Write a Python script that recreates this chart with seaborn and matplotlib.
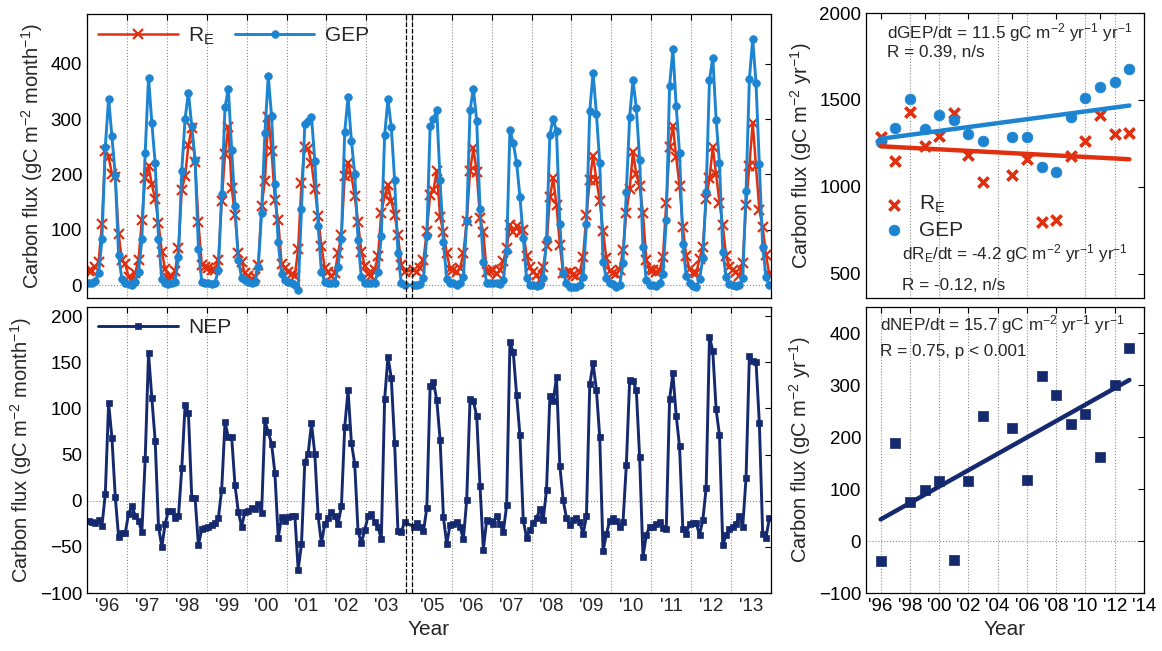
import numpy as np
import pandas as pd
import matplotlib
matplotlib.use("Agg")
import matplotlib.pyplot as plt
import seaborn as sns

# ---------------- data ----------------
years = [1996, 1997, 1998, 1999, 2000, 2001, 2002, 2003,
         2005, 2006, 2007, 2008, 2009, 2010, 2011, 2012, 2013]
year_labels = ["'96", "'97", "'98", "'99", "'00", "'01", "'02", "'03",
               "'05", "'06", "'07", "'08", "'09", "'10", "'11", "'12", "'13"]

gep_monthly = [
    [3, 3, 8, 21, 83, 250, 337, 269, 199, 54, 10, 3],
    [1, 0, 6, 24, 83, 239, 375, 293, 220, 84, 10, 4],
    [2, 3, 6, 50, 207, 301, 348, 287, 226, 66, 6, 3],
    [3, 2, 4, 27, 164, 321, 355, 245, 143, 45, 13, 9],
    [6, 3, 5, 33, 130, 275, 378, 305, 183, 77, 20, 9],
    [5, 3, 0, -9, 137, 292, 297, 304, 225, 107, 24, 6],
    [4, 4, 4, 33, 84, 277, 340, 261, 201, 81, 14, 3],
    [3, 3, 4, 24, 89, 271, 336, 285, 190, 57, 3, 0],
    [0, 0, 2, 12, 89, 287, 301, 316, 189, 77, 10, 3],
    [3, 0, 3, 15, 116, 316, 355, 297, 137, 42, 3, 3],
    [3, 3, 2, 9, 62, 281, 257, 221, 160, 85, 12, 0],
    [0, -1, 0, 12, 83, 272, 301, 278, 111, 22, 3, -3],
    [-3, -3, 0, 15, 110, 315, 383, 310, 221, 42, 12, 3],
    [2, -3, 0, 40, 169, 304, 371, 320, 226, 69, 9, 0],
    [0, -2, 3, 20, 117, 360, 426, 323, 238, 74, 16, 4],
    [-2, -3, 10, 48, 169, 371, 411, 299, 220, 60, 15, 2],
    [0, -2, 0, 12, 170, 373, 444, 365, 219, 69, 14, 0],
]

re_monthly = [
    [25, 26, 32, 42, 110, 243, 231, 201, 195, 93, 45, 38],
    [15, 8, 22, 46, 117, 194, 215, 182, 155, 112, 60, 29],
    [13, 14, 25, 67, 172, 197, 253, 284, 223, 114, 37, 33],
    [31, 28, 28, 46, 152, 236, 286, 176, 126, 57, 41, 21],
    [17, 11, 14, 37, 143, 188, 304, 243, 153, 117, 38, 31],
    [23, 19, 16, 66, 184, 250, 246, 220, 174, 124, 70, 31],
    [23, 16, 21, 58, 90, 197, 220, 198, 161, 114, 60, 35],
    [20, 17, 27, 52, 131, 161, 180, 152, 127, 90, 37, 23],
    [28, 24, 30, 45, 97, 163, 172, 207, 123, 95, 57, 29],
    [28, 23, 31, 57, 115, 206, 247, 205, 121, 95, 24, 25],
    [28, 19, 27, 43, 67, 109, 96, 106, 95, 100, 52, 32],
    [24, 18, 9, 33, 71, 159, 193, 144, 73, 21, 22, 23],
    [18, 16, 23, 51, 127, 189, 234, 190, 152, 97, 48, 25],
    [21, 19, 28, 63, 130, 173, 241, 200, 179, 130, 46, 28],
    [28, 23, 26, 50, 148, 250, 288, 231, 179, 105, 52, 29],
    [22, 21, 47, 69, 155, 193, 249, 200, 149, 108, 52, 33],
    [28, 23, 17, 40, 145, 216, 293, 215, 135, 105, 54, 19],
]

nep_monthly = [
    [-22, -23, -24, -21, -27, 7, 106, 68, 4, -39, -35, -35],
    [-14, -6, -16, -22, -34, 45, 160, 111, 65, -28, -50, -25],
    [-11, -11, -19, -17, 35, 104, 95, 3, 3, -48, -31, -30],
    [-28, -26, -24, -19, 12, 85, 69, 69, 17, -12, -28, -12],
    [-11, -8, -9, -4, -13, 87, 74, 62, 30, -40, -18, -22],
    [-18, -16, -16, -75, -47, 42, 51, 84, 51, -17, -46, -25],
    [-19, -12, -17, -25, -6, 80, 120, 63, 40, -33, -46, -32],
    [-17, -14, -23, -28, -42, 110, 156, 133, 63, -33, -34, -23],
    [-28, -24, -28, -33, -8, 124, 129, 109, 66, -18, -47, -26],
    [-25, -23, -28, -42, 1, 110, 108, 92, 16, -53, -21, -22],
    [-25, -16, -25, -34, -5, 172, 161, 115, 71, -21, -40, -32],
    [-24, -19, -9, -21, 12, 113, 108, 134, 38, 1, -19, -26],
    [-21, -19, -23, -36, -17, 126, 149, 120, 69, -55, -36, -22],
    [-19, -22, -28, -23, 39, 131, 130, 120, 47, -61, -37, -28],
    [-28, -25, -23, -30, -31, 110, 138, 92, 59, -31, -36, -25],
    [-24, -24, -37, -21, 14, 178, 162, 99, 71, -48, -37, -31],
    [-28, -25, -17, -28, 25, 157, 151, 150, 84, -36, -40, -19],
]

annual_years = [1996, 1997, 1998, 1999, 2000, 2001, 2002, 2003,
                2005, 2006, 2007, 2008, 2009, 2010, 2011, 2012, 2013]
gep_annual = [1255, 1337, 1504, 1331, 1414, 1385, 1304, 1264,
              1285, 1285, 1111, 1084, 1400, 1511, 1577, 1603, 1678]
re_annual = [1289, 1147, 1429, 1235, 1295, 1423, 1184, 1025,
             1069, 1161, 796, 806, 1175, 1266, 1414, 1303, 1308]
nep_annual = [-39, 189, 75, 98, 116, -37, 115, 241,
              217, 117, 317, 281, 225, 244, 162, 300, 372]

annual_ticks = [1996, 1998, 2000, 2002, 2004, 2006, 2008, 2010, 2012, 2014]
annual_tick_labels = ["'96", "'98", "'00", "'02", "'04", "'06", "'08", "'10", "'12", "'14"]
top_right_ticks = [1996, 1999, 2002, 2005, 2008, 2011, 2014]

# ---------------- style ----------------
sns.set_style("white")
plt.rcParams['font.family'] = ['Liberation Sans', 'DejaVu Sans']
plt.rcParams['mathtext.fontset'] = 'custom'
plt.rcParams['mathtext.rm'] = 'Liberation Sans'
plt.rcParams['mathtext.it'] = 'Liberation Sans:italic'
plt.rcParams['mathtext.default'] = 'regular'

RED = "#E0300F"
BLUE = "#1D84D1"
NAVY = "#15296F"
GRID = "#8C8C8C"
TICKFS = 13.5
LABFS = 14.5

GAP = 0.14  # break between 2003 and 2005


def year_offset(y):
    return (y - 1996) if y <= 2003 else (y - 1997 + GAP)


rows = []
for i, y in enumerate(years):
    for m in range(12):
        rows.append(dict(pos=year_offset(y) + (m + 0.5) / 12.0,
                         GEP=gep_monthly[i][m], RE=re_monthly[i][m],
                         NEP=nep_monthly[i][m]))
df = pd.DataFrame(rows)

boundaries = sorted(set([year_offset(y) for y in years] + [year_offset(y) + 1 for y in years]))
mids = [year_offset(y) + 0.5 for y in years]
xmax = year_offset(2013) + 1

fig = plt.figure(figsize=(11.62, 6.51), dpi=100)
W, H = 1162.0, 651.0


def add_ax(x0, x1, y0, y1):
    return fig.add_axes([x0 / W, 1 - y1 / H, (x1 - x0) / W, (y1 - y0) / H])


ax1 = add_ax(87, 771, 14, 298)
ax2 = add_ax(87, 771, 307, 593)
ax3 = add_ax(866, 1144, 13, 298)
ax4 = add_ax(866, 1144, 307, 593)


def style_axes(ax):
    for s in ax.spines.values():
        s.set_visible(True)
        s.set_color('black')
        s.set_linewidth(0.9)
    ax.tick_params(which='major', direction='in', length=4, width=0.8,
                   top=True, right=True, labelsize=TICKFS, colors='black')


# ---------- left top: monthly RE & GEP ----------
sns.lineplot(data=df, x='pos', y='RE', ax=ax1, color=RED, lw=1.8, marker='x',
             markersize=6.5, markeredgecolor=RED, markeredgewidth=1.6,
             label='R$_E$', estimator=None)
sns.lineplot(data=df, x='pos', y='GEP', ax=ax1, color=BLUE, lw=2.1, marker='o',
             markersize=5.5, markeredgecolor=BLUE, markeredgewidth=0.5,
             label='GEP', estimator=None)

# ---------- left bottom: monthly NEP ----------
sns.lineplot(data=df, x='pos', y='NEP', ax=ax2, color=NAVY, lw=2.1, marker='s',
             markersize=5, markeredgecolor=NAVY, markeredgewidth=0.5,
             label='NEP', estimator=None)

for ax in (ax1, ax2):
    style_axes(ax)
    ax.set_xlim(0, xmax)
    ax.set_xticks(boundaries)
    ax.set_xticklabels([])
    ax.set_xticks(mids, minor=True)
    ax.tick_params(which='minor', length=0, labelsize=TICKFS)
    ax.grid(axis='x', which='major', ls=':', color=GRID, lw=0.8)
    ax.axhline(0, ls=':', color=GRID, lw=0.8, zorder=0)
    ax.axvline(8, ls='--', color='black', lw=0.9)
    ax.axvline(8 + GAP, ls='--', color='black', lw=0.9)
    ax.set_xlabel('')
    ax.set_ylabel('Carbon flux (gC m$^{-2}$ month$^{-1}$)', fontsize=LABFS)

ax1.set_xticklabels([], minor=True)
ax2.set_xticklabels(year_labels, minor=True)
ax2.set_xlabel('Year', fontsize=15)
ax1.set_ylim(-23.5, 490)
ax1.set_yticks([0, 100, 200, 300, 400])
ax2.set_ylim(-100, 210)
ax2.set_yticks([-100, -50, 0, 50, 100, 150, 200])

ax1.legend(loc='upper left', ncol=2, frameon=False, fontsize=15,
           handlelength=3.8, columnspacing=1.0, borderaxespad=0.15,
           handletextpad=0.5)
ax2.legend(loc='upper left', frameon=False, fontsize=15,
           handlelength=3.8, borderaxespad=0.15, handletextpad=0.5)

# ---------- right top: annual RE & GEP ----------
sns.scatterplot(x=annual_years, y=re_annual, ax=ax3, marker='x', color=RED,
                s=55, linewidth=2.6, label='R$_E$', zorder=3)
sns.scatterplot(x=annual_years, y=gep_annual, ax=ax3, marker='o', color=BLUE,
                s=60, edgecolor=BLUE, linewidth=0.5, label='GEP', zorder=3)
sns.regplot(x=annual_years, y=gep_annual, ax=ax3, scatter=False, ci=None,
            truncate=True, color=BLUE, line_kws=dict(lw=3.2, zorder=4))
sns.regplot(x=annual_years, y=re_annual, ax=ax3, scatter=False, ci=None,
            truncate=True, color=RED, line_kws=dict(lw=3.2, zorder=4))

# ---------- right bottom: annual NEP ----------
sns.scatterplot(x=annual_years, y=nep_annual, ax=ax4, marker='s', color=NAVY,
                s=55, edgecolor=NAVY, linewidth=0.5, zorder=3)
sns.regplot(x=annual_years, y=nep_annual, ax=ax4, scatter=False, ci=None,
            truncate=True, color=NAVY, line_kws=dict(lw=3.2, zorder=4))

for ax in (ax3, ax4):
    style_axes(ax)
    ax.set_xlim(1995, 2014)
    ax.set_ylabel('Carbon flux (gC m$^{-2}$ yr$^{-1}$)', fontsize=LABFS)
    ax.set_xlabel('')

# top right: ticks every 3 years, dotted grid every 2 years
ax3.set_xticks(top_right_ticks)
ax3.set_xticklabels([])
ax3.set_xticks(annual_ticks[:-1], minor=True)
ax3.tick_params(which='minor', length=0)
ax3.grid(axis='x', which='minor', ls=':', color=GRID, lw=0.8)
ax3.grid(axis='x', which='major', visible=False)

ax4.set_xticks(annual_ticks)
ax4.set_xticklabels(annual_tick_labels)
ax4.grid(axis='x', which='major', ls=':', color=GRID, lw=0.8)
ax4.set_xlabel('Year', fontsize=15)

ax3.set_ylim(360, 2000)
ax3.set_yticks([500, 1000, 1500, 2000])
ax4.set_ylim(-100, 450)
ax4.set_yticks([-100, 0, 100, 200, 300, 400])
ax4.axhline(0, ls=':', color=GRID, lw=0.8, zorder=0)

h, l = ax3.get_legend_handles_labels()
ax3.legend(h[:2], l[:2], loc='center left', bbox_to_anchor=(-0.04, 0.285),
           frameon=False, fontsize=15, handletextpad=0.2, labelspacing=0.25)

ANN = 12.3
ax3.text(0.075, 0.93, 'dGEP/dt = 11.5 gC m$^{-2}$ yr$^{-1}$ yr$^{-1}$',
         transform=ax3.transAxes, fontsize=ANN, va='center', ha='left')
ax3.text(0.075, 0.86, 'R = 0.39, n/s', transform=ax3.transAxes,
         fontsize=ANN, va='center', ha='left')
ax3.text(0.13, 0.155, 'dR$_E$/dt = -4.2 gC m$^{-2}$ yr$^{-1}$ yr$^{-1}$',
         transform=ax3.transAxes, fontsize=ANN, va='center', ha='left')
ax3.text(0.13, 0.045, 'R = -0.12, n/s', transform=ax3.transAxes,
         fontsize=ANN, va='center', ha='left')
ax4.text(0.05, 0.937, 'dNEP/dt = 15.7 gC m$^{-2}$ yr$^{-1}$ yr$^{-1}$',
         transform=ax4.transAxes, fontsize=ANN, va='center', ha='left')
ax4.text(0.05, 0.845, 'R = 0.75, p < 0.001', transform=ax4.transAxes,
         fontsize=ANN, va='center', ha='left')

fig.savefig('out.png', dpi=100)
